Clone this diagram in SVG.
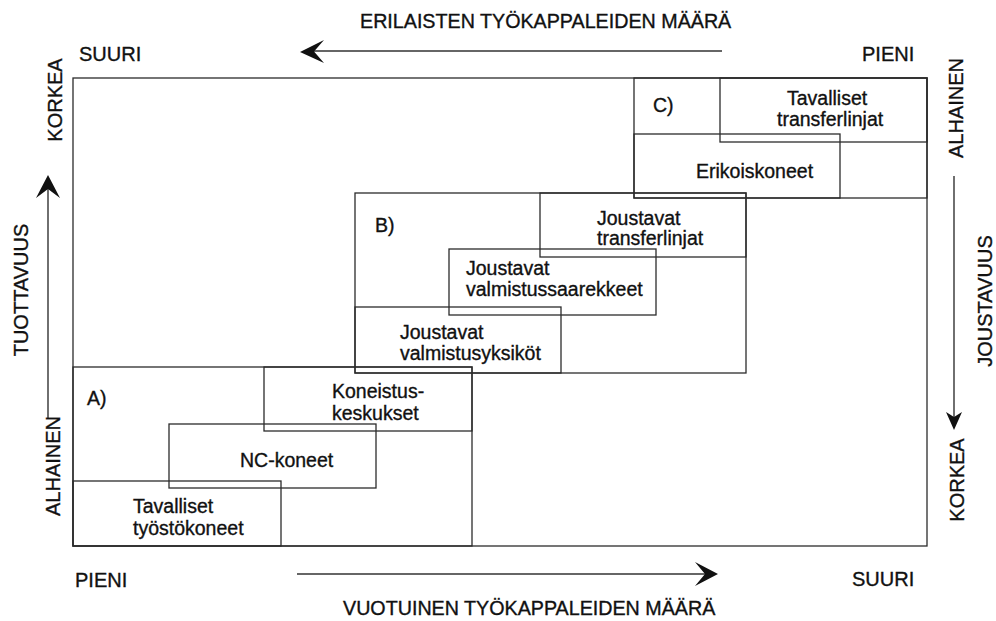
<svg xmlns="http://www.w3.org/2000/svg" width="996" height="621" viewBox="0 0 996 621">
  <style>
    .bg { fill: #ffffff; }
    .box { fill: none; stroke: #2b2b2b; stroke-width: 1.3; }
    .axis { fill: none; stroke: #333333; stroke-width: 1.4; }
    .head { fill: #111111; stroke: none; }
    text { font-family: "Liberation Sans", Arial, sans-serif; fill: #111111; stroke: #111111; stroke-width: 0.35; }
    .lbl { font-size: 19.5px; }
    .ax { font-size: 20px; }
  </style>

  <rect class="bg" x="0" y="0" width="996" height="621"/>

  <!-- outer frame -->
  <g id="frame">
    <rect class="box" x="73" y="78" width="854" height="468"/>
  </g>

  <!-- group A: conventional machining -->
  <g id="regionA">
    <rect class="box" x="73" y="367" width="399" height="179"/>
    <text class="lbl" x="87" y="405">A)</text>
  </g>
  <g id="koneistuskeskukset">
    <rect class="box" x="264" y="367" width="208" height="64"/>
    <text class="lbl" x="332" y="398">Koneistus-</text>
    <text class="lbl" x="332" y="420">keskukset</text>
  </g>
  <g id="nc-koneet">
    <rect class="box" x="169" y="424" width="207" height="64"/>
    <text class="lbl" x="240" y="467">NC-koneet</text>
  </g>
  <g id="tyostokoneet">
    <rect class="box" x="73" y="481" width="208" height="65"/>
    <text class="lbl" x="133" y="513">Tavalliset</text>
    <text class="lbl" x="133" y="535">työstökoneet</text>
  </g>

  <!-- group B: flexible systems -->
  <g id="regionB">
    <rect class="box" x="355" y="193" width="391" height="180"/>
    <text class="lbl" x="375" y="232">B)</text>
  </g>
  <g id="joustavat-transferlinjat">
    <rect class="box" x="540" y="193" width="206" height="64"/>
    <text class="lbl" x="597" y="225">Joustavat</text>
    <text class="lbl" x="597" y="245">transferlinjat</text>
  </g>
  <g id="valmistussaarekkeet">
    <rect class="box" x="449" y="249" width="207" height="66"/>
    <text class="lbl" x="466" y="275">Joustavat</text>
    <text class="lbl" x="466" y="296">valmistussaarekkeet</text>
  </g>
  <g id="valmistusyksikot">
    <rect class="box" x="355" y="307" width="206" height="66"/>
    <text class="lbl" x="400" y="339">Joustavat</text>
    <text class="lbl" x="400" y="360">valmistusyksiköt</text>
  </g>

  <!-- group C: dedicated lines -->
  <g id="regionC">
    <rect class="box" x="634" y="78" width="293" height="120"/>
    <text class="lbl" x="653" y="112">C)</text>
  </g>
  <g id="tavalliset-transferlinjat">
    <rect class="box" x="720" y="78" width="207" height="64"/>
    <text class="lbl" x="787" y="105">Tavalliset</text>
    <text class="lbl" x="777" y="126">transferlinjat</text>
  </g>
  <g id="erikoiskoneet">
    <rect class="box" x="634" y="134" width="206" height="64"/>
    <text class="lbl" x="696" y="178">Erikoiskoneet</text>
  </g>

  <!-- axis arrows -->
  <g id="connectors">
    <line class="axis" x1="314" y1="51" x2="722" y2="51"/>
    <path class="head" d="M300,52 L324,40 L314,51.5 L324,63 Z"/>

    <line class="axis" x1="297" y1="574" x2="705" y2="574"/>
    <path class="head" d="M718,574 L695,562 L705,574 L695,586 Z"/>

    <line class="axis" x1="48" y1="418" x2="48" y2="189"/>
    <path class="head" d="M48,175 L36,198 L48,189 L60,198 Z"/>

    <line class="axis" x1="954" y1="176" x2="954" y2="418"/>
    <path class="head" d="M954,430 L946,412 L954,417 L962,412 Z"/>
  </g>

  <!-- axis captions -->
  <g id="axis-labels">
    <text class="ax" x="360" y="28" style="font-size:19.7px">ERILAISTEN TYÖKAPPALEIDEN MÄÄRÄ</text>
    <text class="ax" x="79" y="61">SUURI</text>
    <text class="ax" x="862" y="61">PIENI</text>
    <text class="ax" x="75" y="587">PIENI</text>
    <text class="ax" x="852" y="586">SUURI</text>
    <text class="ax" x="343" y="615" style="font-size:19.7px">VUOTUINEN TYÖKAPPALEIDEN MÄÄRÄ</text>

    <text class="ax" text-anchor="middle" transform="translate(62,100) rotate(-90)">KORKEA</text>
    <text class="ax" text-anchor="middle" transform="translate(28,290) rotate(-90)">TUOTTAVUUS</text>
    <text class="ax" text-anchor="middle" transform="translate(60,466) rotate(-90)">ALHAINEN</text>

    <text class="ax" text-anchor="middle" transform="translate(963,108) rotate(-90)">ALHAINEN</text>
    <text class="ax" text-anchor="middle" transform="translate(992,301) rotate(-90)">JOUSTAVUUS</text>
    <text class="ax" text-anchor="middle" transform="translate(964,480) rotate(-90)">KORKEA</text>
  </g>
</svg>
